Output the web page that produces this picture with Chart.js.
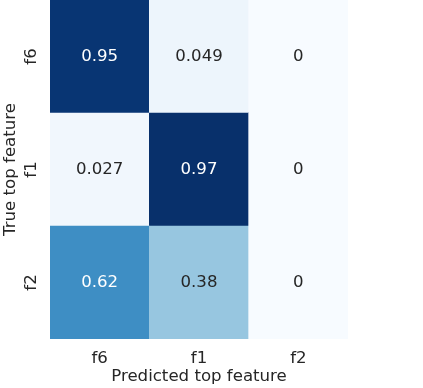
<!DOCTYPE html>
<html lang="en">
<head>
    <meta charset="UTF-8">
    <title>Confusion Matrix</title>
    <script src="https://cdn.jsdelivr.net/npm/chart.js"></script>
    <style>
        body { margin: 0; background: #ffffff; }
        #wrap { width: 423px; height: 388px; }
    </style>
</head>
<body>
<div id="wrap">
    <canvas id="matrixChart" width="423" height="388"></canvas>
</div>

<script>
    // Labels
    const predictedLabels = ['f6', 'f1', 'f2'];
    const trueLabels = ['f6', 'f1', 'f2'];

    // One array per true row
    const rowF6 = [0.95, 0.049, 0];
    const rowF1 = [0.027, 0.97, 0];
    const rowF2 = [0.62, 0.38, 0];
    const rows = [rowF6, rowF1, rowF2];

    const FONT = 'DejaVu Sans';
    const FONT_SIZE = 16.6;
    const TEXT_DARK = '#262626';

    // matplotlib "Blues" anchors
    const blues = ['#f7fbff', '#deebf7', '#c6dbef', '#9ecae1', '#6baed6', '#4292c6', '#2171b5', '#08519c', '#08306b'];

    const vmin = 0;
    const vmax = Math.max(...rows.flat());

    function hexToRgb(h) {
        return [parseInt(h.substr(1, 2), 16), parseInt(h.substr(3, 2), 16), parseInt(h.substr(5, 2), 16)];
    }

    function bluesColor(v) {
        let t = (v - vmin) / (vmax - vmin);
        t = Math.min(1, Math.max(0, t));
        const pos = t * (blues.length - 1);
        const i = Math.min(blues.length - 2, Math.floor(pos));
        const f = pos - i;
        const a = hexToRgb(blues[i]), b = hexToRgb(blues[i + 1]);
        return a.map((c, k) => Math.round(c + (b[k] - c) * f));
    }

    function rgbStr(c) {
        return `rgb(${c[0]}, ${c[1]}, ${c[2]})`;
    }

    // relative luminance, same rule seaborn uses to pick annotation colour
    function luminance(c) {
        const lin = c.map(x => {
            x = x / 255;
            return x <= 0.03928 ? x / 12.92 : Math.pow((x + 0.055) / 1.055, 2.4);
        });
        return 0.2126 * lin[0] + 0.7152 * lin[1] + 0.0722 * lin[2];
    }

    function fmt2g(v) {
        if (v === 0) return '0';
        return String(parseFloat(v.toPrecision(2)));
    }

    // stacked bars, bottom row first: f2, f1, f6
    const datasets = [];
    for (let r = rows.length - 1; r >= 0; r--) {
        datasets.push({
            label: trueLabels[r],
            data: predictedLabels.map(() => 1),
            values: rows[r],
            backgroundColor: rows[r].map(v => rgbStr(bluesColor(v))),
            borderWidth: 0,
            barPercentage: 1,
            categoryPercentage: 1
        });
    }

    // annotations + y axis labels
    const matrixText = {
        id: 'matrixText',
        afterDatasetsDraw(chart) {
            const ctx = chart.ctx;
            const yScale = chart.scales.y;
            ctx.save();
            ctx.font = `${FONT_SIZE}px "${FONT}"`;
            ctx.textAlign = 'center';
            ctx.textBaseline = 'middle';

            chart.data.datasets.forEach((ds, di) => {
                const meta = chart.getDatasetMeta(di);
                meta.data.forEach((bar, i) => {
                    const v = ds.values[i];
                    const c = bluesColor(v);
                    ctx.fillStyle = luminance(c) > 0.408 ? TEXT_DARK : '#ffffff';
                    const cy = (bar.y + bar.base) / 2;
                    ctx.fillText(fmt2g(v), bar.x, cy);
                });
            });

            // y tick labels, rotated
            ctx.fillStyle = TEXT_DARK;
            ctx.textBaseline = 'alphabetic';
            trueLabels.forEach((lab, i) => {
                const y = yScale.getPixelForValue(trueLabels.length - 0.5 - i);
                ctx.save();
                ctx.translate(35.5, y);
                ctx.rotate(-Math.PI / 2);
                ctx.fillText(lab, 0, 0);
                ctx.restore();
            });

            // y axis title
            const midY = (chart.chartArea.top + chart.chartArea.bottom) / 2;
            ctx.save();
            ctx.translate(15, midY);
            ctx.rotate(-Math.PI / 2);
            ctx.fillText('True top feature', 0, 0);
            ctx.restore();

            ctx.restore();
        }
    };

    Chart.defaults.font.family = FONT;
    Chart.defaults.font.size = FONT_SIZE;
    Chart.defaults.color = TEXT_DARK;

    new Chart(document.getElementById('matrixChart').getContext('2d'), {
        type: 'bar',
        data: {
            labels: predictedLabels,
            datasets: datasets
        },
        options: {
            responsive: false,
            animation: false,
            layout: {
                padding: { left: 50, right: 75, top: 0, bottom: 0 }
            },
            plugins: {
                legend: { display: false },
                tooltip: { enabled: false }
            },
            scales: {
                x: {
                    stacked: true,
                    grid: { display: false, drawTicks: false },
                    border: { display: false },
                    ticks: { padding: 10, maxRotation: 0 },
                    title: {
                        display: true,
                        text: 'Predicted top feature',
                        padding: { top: 0, bottom: 1 }
                    },
                    afterFit(scale) {
                        scale.height = 49;
                    }
                },
                y: {
                    stacked: true,
                    display: false,
                    min: 0,
                    max: 3
                }
            }
        },
        plugins: [matrixText]
    });
</script>
</body>
</html>
